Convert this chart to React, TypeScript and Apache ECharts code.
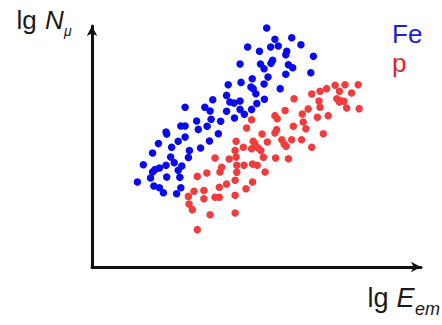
import React, { useEffect, useRef } from "react";
import * as echarts from "echarts";

// Iron-induced showers: [lg E_em, lg N_mu] in arbitrary units
const feShowers: number[][] = [
  [5.31, 9.92], [5.56, 9.45], [6.07, 9.51], [4.73, 9.13], [5.43, 9.13],
  [5.66, 9.17], [6.35, 9.22], [5.09, 8.95], [5.92, 8.95], [5.89, 8.81],
  [6.73, 8.74], [4.5, 8.42], [5.12, 8.42], [5.23, 8.23], [5.49, 8.58],
  [5.44, 8.45], [5.97, 8.39], [6.1, 8.27], [6.65, 8.06], [5.89, 8.0],
  [4.14, 7.56], [4.53, 7.66], [4.87, 7.81], [5.35, 7.88], [5.23, 7.59],
  [4.83, 7.47], [4.9, 7.4], [5.72, 7.4], [4.09, 7.12], [4.98, 7.19],
  [4.19, 6.85], [4.32, 6.8], [4.5, 6.89], [5.24, 6.96], [5.01, 6.78],
  [4.85, 6.54], [4.5, 6.54], [4.09, 6.46], [4.63, 6.34], [4.33, 6.18],
  [3.67, 6.94], [2.83, 6.63], [3.43, 6.63], [3.59, 6.47], [3.62, 6.13],
  [3.18, 6.06], [3.91, 6.05], [3.5, 5.84], [3.23, 5.71], [2.7, 5.85],
  [2.83, 5.85], [2.25, 5.6], [2.27, 5.52], [2.83, 5.39], [3.84, 5.53],
  [2.62, 5.22], [2.02, 5.12], [3.57, 5.23], [2.42, 4.97], [3.3, 4.94],
  [2.96, 4.83], [1.84, 4.73], [2.93, 4.54], [2.39, 4.56], [1.56, 4.24],
  [2.5, 4.33], [2.73, 4.19], [2.05, 4.11], [1.91, 4.04], [1.84, 3.94],
  [2.25, 4.22], [2.62, 4.01], [2.27, 3.73], [1.78, 3.69], [2.67, 3.72],
  [1.38, 3.53], [1.88, 3.36], [2.05, 3.29], [2.17, 3.08], [2.7, 3.29],
  [2.57, 3.04],
];

// Proton-induced showers: [lg E_em, lg N_mu]
const pShowers: number[][] = [
  [8.09, 7.56], [7.69, 7.56], [7.39, 7.54], [7.13, 7.4], [6.93, 7.29],
  [6.68, 7.18], [7.52, 7.29], [7.89, 7.22], [6.14, 6.98], [7.44, 6.98],
  [7.56, 6.9], [7.66, 6.88], [7.52, 6.85], [6.93, 6.63], [6.57, 6.56],
  [7.74, 6.6], [8.12, 6.57], [5.87, 6.49], [6.39, 6.35], [6.85, 6.21],
  [7.18, 6.28], [5.56, 6.28], [5.63, 6.15], [4.85, 6.11], [6.42, 6.02],
  [6.12, 5.84], [6.5, 5.74], [4.7, 5.77], [5.61, 5.7], [5.56, 5.56],
  [4.38, 5.22], [4.9, 5.22], [4.95, 5.1], [5.33, 5.19], [5.77, 5.28],
  [5.84, 5.1], [6.07, 5.28], [6.37, 5.28], [7.03, 5.53], [6.68, 4.97],
  [5.9, 5.01], [4.6, 4.97], [4.85, 4.91], [5.05, 4.94], [5.13, 4.83],
  [4.35, 4.83], [5.21, 4.55], [5.58, 4.52], [5.97, 4.49], [4.38, 4.56],
  [4.17, 4.48], [3.74, 4.52], [3.94, 4.14], [4.4, 4.22], [4.62, 4.22],
  [4.88, 4.27], [5.02, 4.22], [3.89, 3.94], [4.4, 3.93], [5.26, 3.94],
  [3.2, 3.76], [3.49, 3.9], [4.09, 3.44], [4.35, 3.6], [4.88, 3.53],
  [3.87, 3.31], [3.4, 3.17], [3.1, 3.14], [4.68, 3.25], [4.35, 2.98],
  [3.74, 2.89], [3.87, 2.89], [2.93, 2.93], [3.4, 2.83], [2.95, 2.61],
  [3.05, 2.38], [3.59, 2.17], [4.35, 2.24], [3.2, 1.55], [5.17, 5.52],
  [6.9, 6.89],
];

const axisRange = [0, 10];
const seriesNames = ["Fe", "p"];

const BLUE_DOT = "#0a0af0";
const RED_DOT = "#f03c3c";
const AXIS = "#111111";
const FONT = "Liberation Sans, Arial, sans-serif";

export default function App() {
  const ref = useRef<HTMLDivElement>(null);

  useEffect(() => {
    if (!ref.current) return;
    const chart = echarts.init(ref.current, null, { renderer: "svg" });

    const axisCommon = {
      type: "value" as const,
      min: axisRange[0],
      max: axisRange[1],
      axisLine: {
        show: true,
        onZero: false,
        symbol: ["none", "arrow"],
        symbolSize: [8, 10],
        lineStyle: { color: AXIS, width: 3 },
      },
      axisTick: { show: false },
      axisLabel: { show: false },
      splitLine: { show: false },
    };

    const txt = (
      text: string,
      x: number,
      y: number,
      size: number,
      fill: string,
      italic = false
    ) => ({
      type: "text",
      x,
      y,
      silent: true,
      style: {
        text,
        fill,
        font: `${italic ? "italic " : ""}${size}px ${FONT}`,
        verticalAlign: "middle",
        align: "left",
      },
    });

    chart.setOption({
      animation: false,
      backgroundColor: "#ffffff",
      grid: { left: 92, right: 21, top: 26, bottom: 58 },
      xAxis: axisCommon,
      yAxis: axisCommon,
      graphic: [
        // vertical axis title: lg N_mu
        txt("lg", 16.5, 20, 26, "#1a1a1a"),
        txt("N", 45, 20, 26, "#1a1a1a", true),
        txt("μ", 64, 30.5, 14, "#1a1a1a", true),
        // horizontal axis title: lg E_em
        txt("lg", 367.5, 297.5, 27, "#1a1a1a"),
        txt("E", 396.5, 297.5, 27, "#1a1a1a", true),
        txt("em", 415, 309, 18, "#1a1a1a", true),
        // series key
        txt(seriesNames[0], 392, 33.7, 26, "#2020cc"),
        txt(seriesNames[1], 392, 62.7, 26, "#e81e1e"),
      ],
      series: [
        {
          name: seriesNames[0],
          type: "scatter",
          data: feShowers,
          symbolSize: 7.5,
          itemStyle: { color: BLUE_DOT, opacity: 1 },
        },
        {
          name: seriesNames[1],
          type: "scatter",
          data: pShowers,
          symbolSize: 7.5,
          itemStyle: { color: RED_DOT, opacity: 1 },
        },
      ],
    });

    return () => chart.dispose();
  }, []);

  return (
    <div
      ref={ref}
      style={{
        position: "fixed",
        left: 0,
        top: 0,
        width: 442,
        height: 325,
        background: "#ffffff",
      }}
    />
  );
}
